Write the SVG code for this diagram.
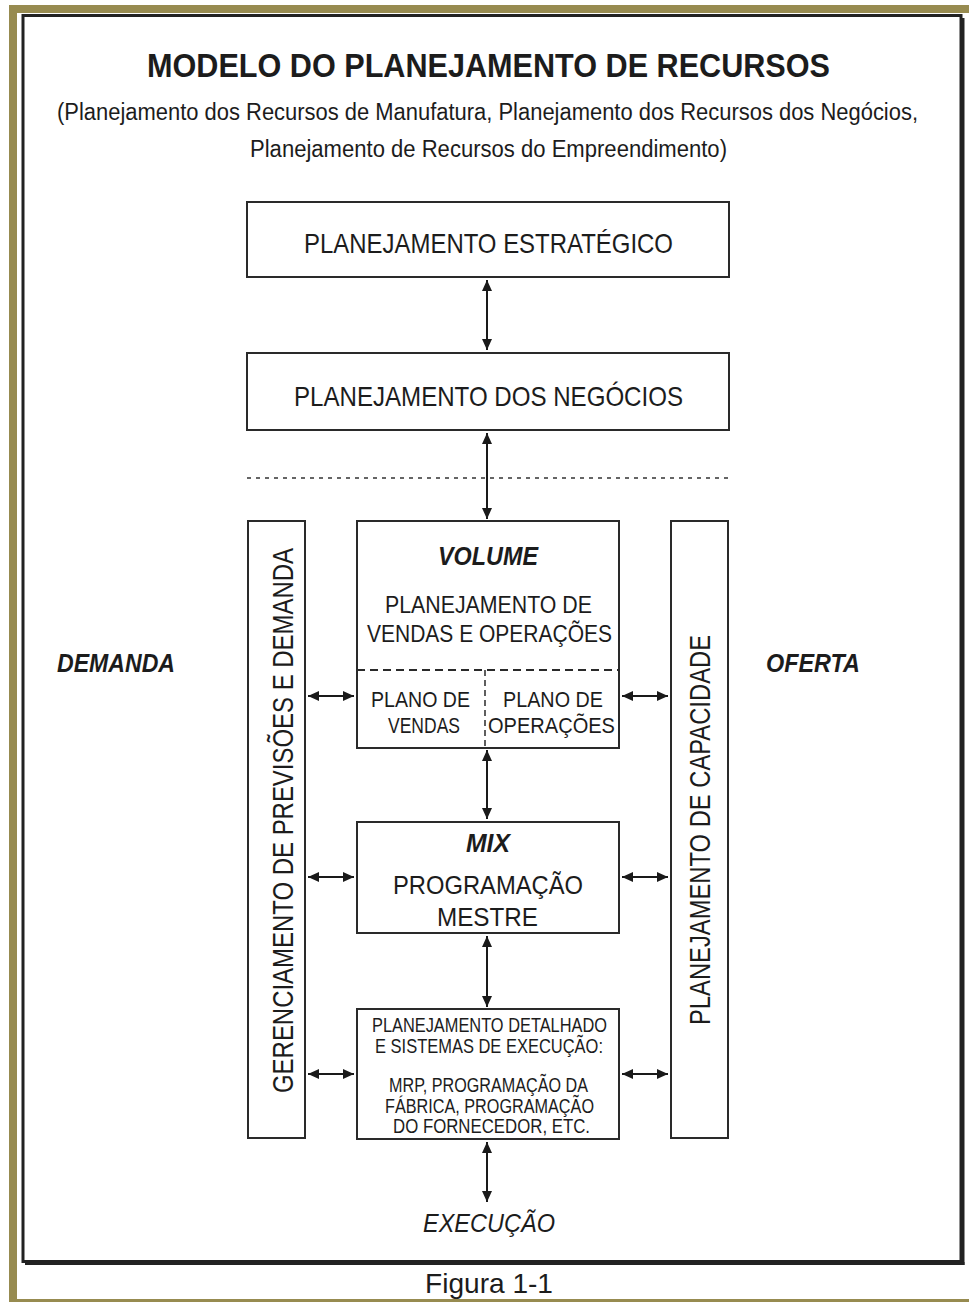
<svg xmlns="http://www.w3.org/2000/svg" width="969" height="1302" viewBox="0 0 969 1302">
<defs>
<marker id="ah" markerUnits="userSpaceOnUse" markerWidth="12" markerHeight="10" refX="11" refY="5" orient="auto-start-reverse">
<path d="M0,0 L11,5 L0,10 Z" fill="#1a1a1a"/>
</marker>
<style>
.t{font-family:"Liberation Sans",Arial,sans-serif;fill:#1c1c1c;text-anchor:middle}
.b{font-weight:bold}
.i{font-style:italic}
.box{fill:#fff;stroke:#2a2a2a;stroke-width:2}
.con{stroke:#1a1a1a;stroke-width:2;fill:none;marker-start:url(#ah);marker-end:url(#ah)}
</style>
</defs>
<rect x="0" y="0" width="969" height="1302" fill="#fff"/>
<!-- olive border -->
<g id="border">
<rect x="9" y="5" width="960" height="8" fill="#978b50"/>
<rect x="9" y="5" width="8" height="1297" fill="#978b50"/>
<rect x="9" y="1299" width="960" height="3" fill="#978b50"/>
<rect x="23" y="15.5" width="938" height="1246" fill="none" stroke="#222" stroke-width="3"/>
<line x1="963" y1="18" x2="963" y2="1265" stroke="#222" stroke-width="3"/>
<line x1="25" y1="1263.5" x2="964.5" y2="1263.5" stroke="#222" stroke-width="3"/>
</g>
<g id="title">
<text class="t b" x="488.5" y="77" font-size="34" textLength="683" lengthAdjust="spacingAndGlyphs">MODELO DO PLANEJAMENTO DE RECURSOS</text>
<text class="t" x="487.5" y="120" font-size="23" textLength="861" lengthAdjust="spacingAndGlyphs">(Planejamento dos Recursos de Manufatura, Planejamento dos Recursos dos Negócios,</text>
<text class="t" x="488.5" y="157" font-size="23" textLength="477" lengthAdjust="spacingAndGlyphs">Planejamento de Recursos do Empreendimento)</text>
</g>
<g id="n-estrategico">
<rect class="box" x="247" y="202" width="482" height="75"/>
<text class="t" x="488.5" y="253" font-size="28" textLength="369" lengthAdjust="spacingAndGlyphs">PLANEJAMENTO ESTRATÉGICO</text>
</g>
<g id="n-negocios">
<rect class="box" x="247" y="353" width="482" height="77"/>
<text class="t" x="488.5" y="406" font-size="28" textLength="389" lengthAdjust="spacingAndGlyphs">PLANEJAMENTO DOS NEGÓCIOS</text>
</g>
<line x1="247" y1="478" x2="729" y2="478" stroke="#333" stroke-width="1.6" stroke-dasharray="4,5"/>
<g id="n-demanda-box">
<rect class="box" x="248" y="521" width="57" height="617"/>
<text class="t" transform="translate(293,820.5) rotate(-90)" x="0" y="0" font-size="29" textLength="545" lengthAdjust="spacingAndGlyphs">GERENCIAMENTO DE PREVISÕES E DEMANDA</text>
</g>
<g id="n-capacidade">
<rect class="box" x="671" y="521" width="57" height="617"/>
<text class="t" transform="translate(710,830) rotate(-90)" x="0" y="0" font-size="29" textLength="390" lengthAdjust="spacingAndGlyphs">PLANEJAMENTO DE CAPACIDADE</text>
</g>
<g id="n-volume">
<rect class="box" x="357" y="521" width="262" height="227"/>
<line x1="357" y1="670" x2="619" y2="670" stroke="#2a2a2a" stroke-width="1.8" stroke-dasharray="8,5"/>
<line x1="485" y1="670" x2="485" y2="748" stroke="#2a2a2a" stroke-width="1.5" stroke-dasharray="6,4"/>
<text class="t b i" x="488" y="565" font-size="25" textLength="100" lengthAdjust="spacingAndGlyphs">VOLUME</text>
<text class="t" x="488.5" y="613" font-size="24" textLength="207" lengthAdjust="spacingAndGlyphs">PLANEJAMENTO DE</text>
<text class="t" x="489.5" y="642" font-size="24" textLength="245" lengthAdjust="spacingAndGlyphs">VENDAS E OPERAÇÕES</text>
<text class="t" x="420.5" y="707" font-size="22" textLength="99" lengthAdjust="spacingAndGlyphs">PLANO DE</text>
<text class="t" x="424" y="733" font-size="22" textLength="72" lengthAdjust="spacingAndGlyphs">VENDAS</text>
<text class="t" x="553" y="707" font-size="22" textLength="100" lengthAdjust="spacingAndGlyphs">PLANO DE</text>
<text class="t" x="551.5" y="733" font-size="22" textLength="127" lengthAdjust="spacingAndGlyphs">OPERAÇÕES</text>
</g>
<g id="n-mix">
<rect class="box" x="357" y="822" width="262" height="111"/>
<text class="t b i" x="488" y="852" font-size="25" textLength="44" lengthAdjust="spacingAndGlyphs">MIX</text>
<text class="t" x="488" y="894" font-size="26" textLength="190" lengthAdjust="spacingAndGlyphs">PROGRAMAÇÃO</text>
<text class="t" x="487.5" y="926" font-size="26" textLength="101" lengthAdjust="spacingAndGlyphs">MESTRE</text>
</g>
<g id="n-detalhado">
<rect class="box" x="357" y="1009" width="262" height="130"/>
<text class="t" x="489.5" y="1032" font-size="20" textLength="235" lengthAdjust="spacingAndGlyphs">PLANEJAMENTO DETALHADO</text>
<text class="t" x="489" y="1053" font-size="20" textLength="228" lengthAdjust="spacingAndGlyphs">E SISTEMAS DE EXECUÇÃO:</text>
<text class="t" x="488.5" y="1092" font-size="20" textLength="199" lengthAdjust="spacingAndGlyphs">MRP, PROGRAMAÇÃO DA</text>
<text class="t" x="489.5" y="1113" font-size="20" textLength="209" lengthAdjust="spacingAndGlyphs">FÁBRICA, PROGRAMAÇÃO</text>
<text class="t" x="491.5" y="1133" font-size="20" textLength="197" lengthAdjust="spacingAndGlyphs">DO FORNECEDOR, ETC.</text>
</g>
<g id="labels">
<text class="t b i" x="116" y="672" font-size="26" textLength="118" lengthAdjust="spacingAndGlyphs">DEMANDA</text>
<text class="t b i" x="813" y="672" font-size="26" textLength="94" lengthAdjust="spacingAndGlyphs">OFERTA</text>
<text class="t i" x="489" y="1232" font-size="26" textLength="132" lengthAdjust="spacingAndGlyphs">EXECUÇÃO</text>
<text class="t" x="489" y="1293" font-size="28" textLength="128" lengthAdjust="spacingAndGlyphs">Figura 1-1</text>
</g>
<g id="connectors">
<line class="con" x1="487" y1="280" x2="487" y2="350"/>
<line class="con" x1="487" y1="433" x2="487" y2="519"/>
<line class="con" x1="487" y1="750" x2="487" y2="819"/>
<line class="con" x1="487" y1="936" x2="487" y2="1007"/>
<line class="con" x1="487" y1="1142" x2="487" y2="1202"/>
<line class="con" x1="308" y1="696" x2="354" y2="696"/>
<line class="con" x1="622" y1="696" x2="668" y2="696"/>
<line class="con" x1="308" y1="877" x2="354" y2="877"/>
<line class="con" x1="622" y1="877" x2="668" y2="877"/>
<line class="con" x1="308" y1="1074" x2="354" y2="1074"/>
<line class="con" x1="622" y1="1074" x2="668" y2="1074"/>
</g>
</svg>
